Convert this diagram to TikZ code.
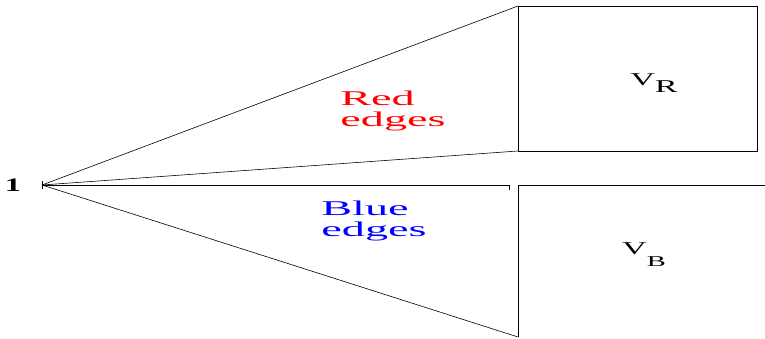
\documentclass[tikz,border=0pt]{standalone}
\usepackage{fontspec}
\setmainfont{Liberation Serif}
\usetikzlibrary{positioning}
\newcommand{\wide}[2][2.2]{\scalebox{#1}[1]{#2}}

\begin{document}
\begin{tikzpicture}[x=1pt,y=-1pt,
 edge/.style={line width=0.6pt},
 side/.style={line width=0.9pt},
 lab/.style={align=left,inner sep=0pt,font=\fontsize{21}{21}\selectfont}]
\useasboundingbox (0,0) rectangle (765,339);
% corner points
\coordinate (one) at (42,185);
\coordinate (rtl) at (518,6);
\coordinate (rtr) at (757,6);
\coordinate (rbr) at (757,151);
\coordinate (rbl) at (518,151);
\coordinate (btl) at (518,185);
\coordinate (btr) at (765,185);
\coordinate (bbl) at (518,337);
\coordinate (mid) at (509,185);
% vertex label
\node[inner sep=0pt,font=\fontsize{19}{19}\selectfont] (lone) at (13,185) {\wide[1.7]{\textbf{1}}};
% parts
\draw[side] (rtl) -- (rtr) -- (rbr) -- (rbl) -- cycle;
\draw[side] (bbl) -- (btl) -- (btr);
\node[inner sep=0pt,font=\fontsize{18}{18}\selectfont] (vr) at (654,83) {\wide[1.9]{V\raisebox{-7pt}{R}}};
\node[inner sep=0pt,font=\fontsize{18}{18}\selectfont] (vb) at (644,255) {\wide[1.9]{V\raisebox{-12pt}{\fontsize{15}{15}\selectfont B}}};
% edges
\draw[edge] (one) -- (rtl);
\draw[edge] (one) -- (rbl);
\draw[edge] (one) -- (mid) -- ++(0,5);
\draw[edge] (one) -- (bbl);
\draw[edge] ([yshift=-4pt]one) -- ([yshift=4pt]one);
\node[lab,text=red] (red) at (393,111) {\wide{Red}\\\wide{edges}};
\node[lab,text=blue] (blue) at (374,221) {\wide{Blue}\\\wide{edges}};
\end{tikzpicture}
\end{document}
